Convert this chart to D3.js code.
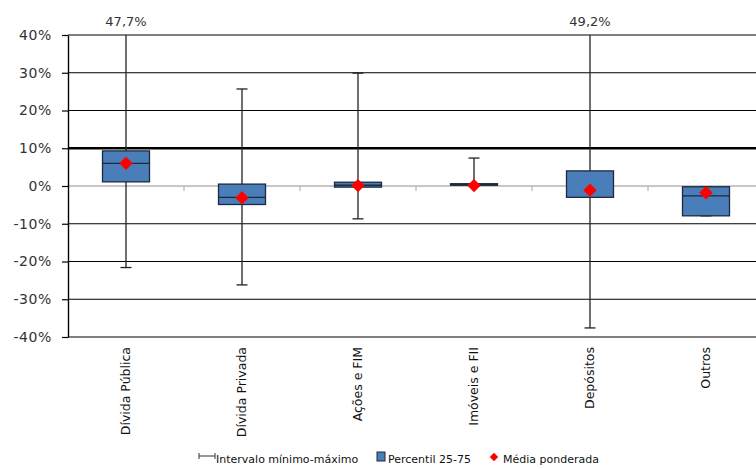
<!DOCTYPE html>
<html lang="pt">
  <head>
    <meta charset="UTF-8" />
    <title>Intervalos por classe de ativo</title>
    <style>
      body { margin: 0; background: #fff; }
      svg { display: block; font-family: 'DejaVu Sans', sans-serif; }
    </style>
  </head>
  <body>
    <script src="https://d3js.org/d3.v7.min.js"></script>
    <script>
      // valores em %
      const categories = ['Dívida Pública', 'Dívida Privada', 'Ações e FIM', 'Imóveis e FII', 'Depósitos', 'Outros'];
      const minVals = [-21.6, -26.2, -8.7, 0.0, -37.6, -7.9];
      const maxVals = [47.7, 25.7, 29.9, 7.4, 49.2, -0.2];
      const p25 = [1.1, -4.9, -0.3, 0.2, -3.0, -7.9];
      const medians = [6.0, -3.0, 0.2, 0.4, null, -2.6];
      const p75 = [9.3, 0.5, 1.0, 0.6, 4.0, -0.2];
      const means = [6.0, -3.1, 0.1, 0.1, -1.1, -1.8];
      const yTicks = [-40, -30, -20, -10, 0, 10, 20, 30, 40];

      const W = 756, H = 469;
      const plotLeft = 68, plotTop = 35, plotBottom = 337;
      const bandW = 116;

      const svg = d3.select('body').append('svg')
        .attr('width', W).attr('height', H);

      const x = d3.scaleBand()
        .domain(categories)
        .range([plotLeft, plotLeft + bandW * categories.length])
        .padding(0);

      const y = d3.scaleLinear().domain([-40, 40]).range([plotBottom, plotTop]).clamp(true);

      // linhas de grade
      svg.append('g')
        .selectAll('line')
        .data(yTicks.filter(d => d !== 0))
        .join('line')
        .attr('x1', plotLeft).attr('x2', W)
        .attr('y1', d => y(d)).attr('y2', d => y(d))
        .attr('stroke', '#000')
        .attr('stroke-width', d => d === 10 ? 2.4 : 1.2);

      // linha do zero (cinza) com marcas entre categorias
      svg.append('line')
        .attr('x1', plotLeft).attr('x2', W)
        .attr('y1', y(0)).attr('y2', y(0))
        .attr('stroke', '#b4b4b4').attr('stroke-width', 1.5);
      svg.append('g')
        .selectAll('line')
        .data(categories.slice(1))
        .join('line')
        .attr('x1', d => x(d)).attr('x2', d => x(d))
        .attr('y1', y(0)).attr('y2', y(0) + 5)
        .attr('stroke', '#b4b4b4').attr('stroke-width', 1.2);

      // eixo y
      const yAxis = svg.append('g')
        .attr('transform', `translate(${plotLeft},0)`)
        .call(d3.axisLeft(y).tickValues(yTicks).tickSize(6).tickSizeOuter(0).tickPadding(10)
          .tickFormat(d => d + '%'));
      yAxis.select('.domain').attr('stroke', '#000').attr('stroke-width', 1.4);
      yAxis.selectAll('.tick line').attr('stroke', '#000').attr('stroke-width', 1.2);
      yAxis.selectAll('.tick text')
        .attr('font-size', 14).attr('fill', '#333')
        .attr('font-family', "'DejaVu Sans', sans-serif")
        .attr('letter-spacing', 0.6);

      const rows = categories.map((c, i) => ({
        c, min: minVals[i], max: maxVals[i], q1: p25[i], med: medians[i], q3: p75[i], mean: means[i]
      }));
      const cx = d => x(d.c) + x.bandwidth() / 2;
      const boxW = 47, capW = 11;

      // intervalo mínimo-máximo
      const wh = svg.append('g').attr('stroke', '#222').attr('stroke-width', 1.3);
      wh.selectAll('.v').data(rows).join('line')
        .attr('x1', cx).attr('x2', cx)
        .attr('y1', d => y(d.min)).attr('y2', d => y(d.max));
      wh.selectAll('.cmax').data(rows.filter(d => d.max <= 40)).join('line')
        .attr('x1', d => cx(d) - capW / 2).attr('x2', d => cx(d) + capW / 2)
        .attr('y1', d => y(d.max)).attr('y2', d => y(d.max));
      wh.selectAll('.cmin').data(rows.filter(d => d.min >= -40)).join('line')
        .attr('x1', d => cx(d) - capW / 2).attr('x2', d => cx(d) + capW / 2)
        .attr('y1', d => y(d.min)).attr('y2', d => y(d.min));

      // percentil 25-75
      svg.append('g').selectAll('rect').data(rows).join('rect')
        .attr('x', d => cx(d) - boxW / 2)
        .attr('width', boxW)
        .attr('y', d => y(d.q3))
        .attr('height', d => Math.max(1.5, y(d.q1) - y(d.q3)))
        .attr('fill', '#4a7ebb')
        .attr('stroke', '#1d2a3a').attr('stroke-width', 1.3);

      svg.append('g').selectAll('line').data(rows.filter(d => d.med !== null)).join('line')
        .attr('x1', d => cx(d) - boxW / 2).attr('x2', d => cx(d) + boxW / 2)
        .attr('y1', d => y(d.med)).attr('y2', d => y(d.med))
        .attr('stroke', '#1d2a3a').attr('stroke-width', 1.3);

      // média ponderada
      const dia = d3.symbol().type(d3.symbolDiamond2).size(115);
      svg.append('g').selectAll('path').data(rows).join('path')
        .attr('d', dia)
        .attr('transform', d => `translate(${cx(d)},${y(d.mean)})`)
        .attr('fill', '#ff0000');

      // rótulos de máximos fora da escala
      svg.append('g').selectAll('text').data(rows.filter(d => d.max > 40)).join('text')
        .attr('x', cx).attr('y', 26)
        .attr('text-anchor', 'middle')
        .attr('font-size', 13).attr('fill', '#333')
        .text(d => d.max.toFixed(1).replace('.', ',') + '%');

      // rótulos das categorias
      svg.append('g').selectAll('text').data(categories).join('text')
        .attr('transform', d => `translate(${x(d) + x.bandwidth() / 2 + 4},347) rotate(-90)`)
        .attr('text-anchor', 'end')
        .attr('font-size', 12.5).attr('fill', '#111')
        .text(d => d);

      // legenda
      const lg = svg.append('g').attr('font-size', 11).attr('fill', '#111');
      const ly = 463;
      lg.append('path')
        .attr('d', `M199,${ly - 4}v-6M199,${ly - 7}h16M215,${ly - 4}v-6`)
        .attr('stroke', '#333').attr('stroke-width', 1).attr('fill', 'none');
      lg.append('text').attr('x', 216).attr('y', ly).text('Intervalo mínimo-máximo');
      lg.append('rect').attr('x', 377).attr('y', ly - 11).attr('width', 8).attr('height', 9)
        .attr('fill', '#4a7ebb').attr('stroke', '#1d2a3a').attr('stroke-width', 1);
      lg.append('text').attr('x', 388).attr('y', ly).text('Percentil 25-75');
      lg.append('path')
        .attr('d', d3.symbol().type(d3.symbolDiamond2).size(45))
        .attr('transform', `translate(494,${ly - 6})`)
        .attr('fill', '#ff0000');
      lg.append('text').attr('x', 503).attr('y', ly).text('Média ponderada');
    </script>
  </body>
</html>
